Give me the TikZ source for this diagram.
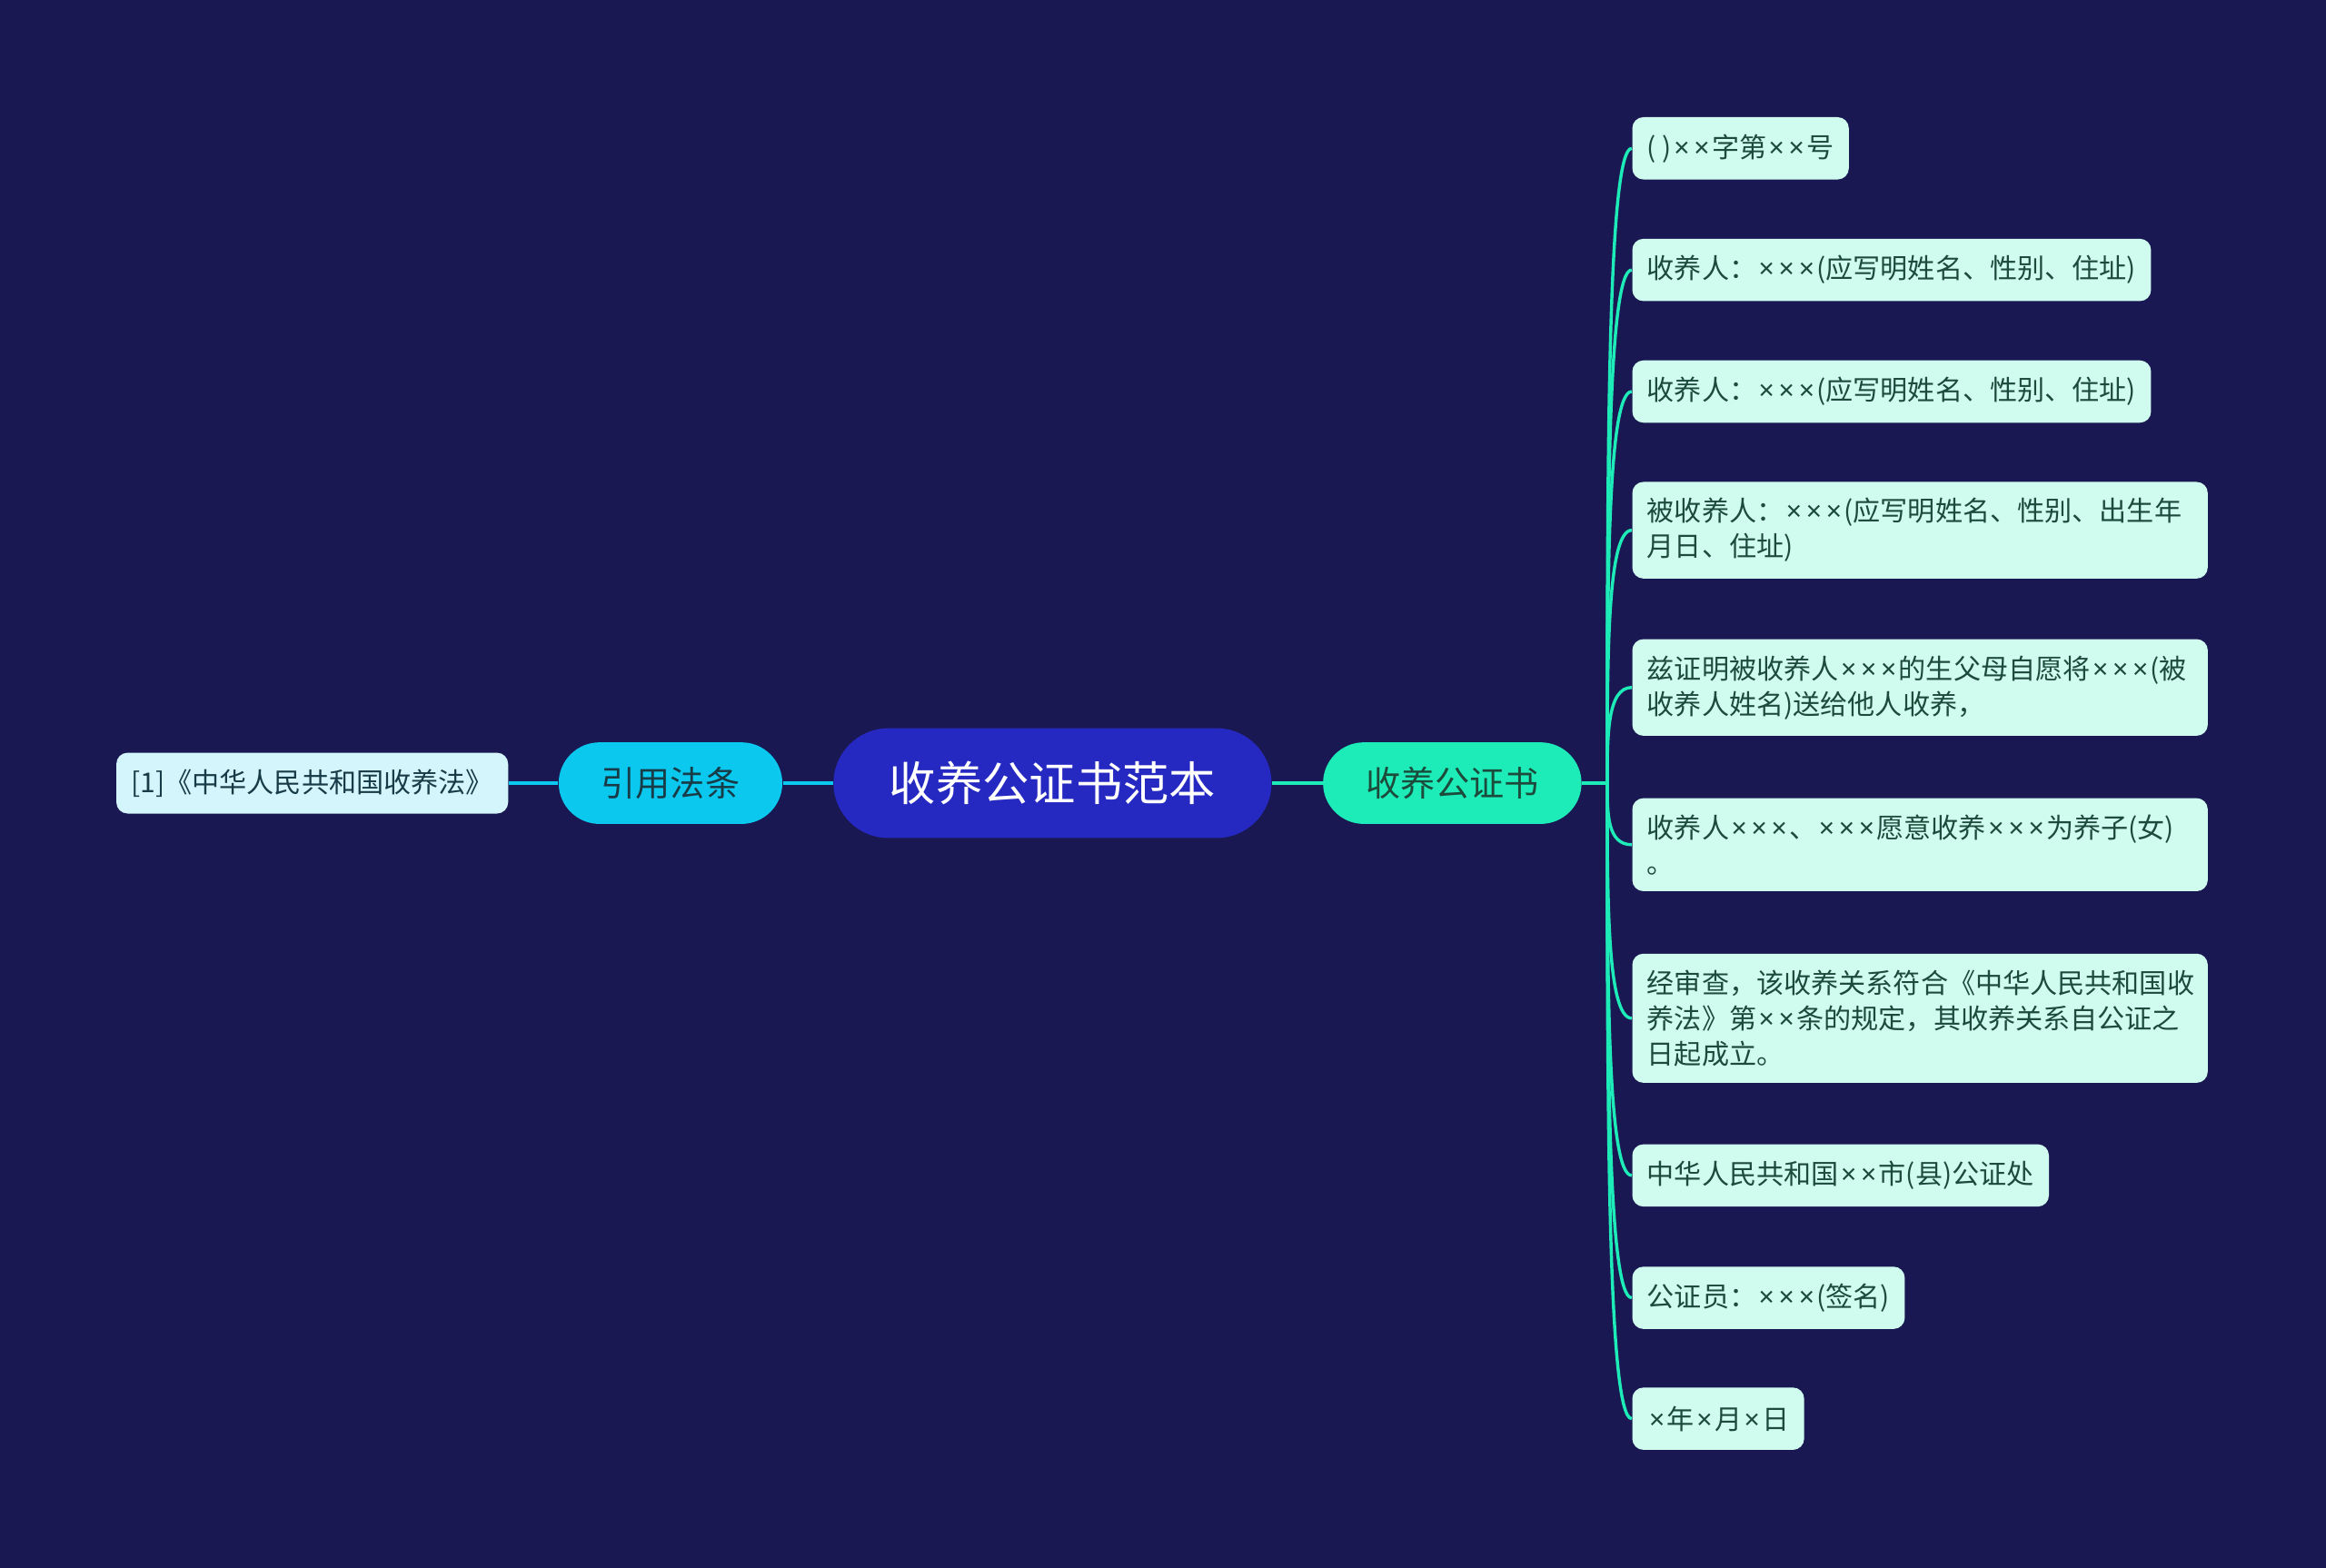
\documentclass[tikz,border=0pt]{standalone}
\usepackage{fontspec}
\setmainfont{Noto Sans CJK SC}
\newfontfamily\latinfont{Noto Sans}
\newcommand\X{{\latinfont\kern0.08em×\kern0.08em}}
\usepackage{xcolor}
\usepackage{tikz}
\usetikzlibrary{shapes.misc,calc}
\definecolor{bgnavy}{HTML}{1A1852}
\definecolor{rootblue}{HTML}{2529C2}
\definecolor{citecyan}{HTML}{0BC8EF}
\definecolor{certmint}{HTML}{1DEBB8}
\definecolor{leafmint}{HTML}{CFFCEF}
\definecolor{leafcyan}{HTML}{D3F5FB}
\definecolor{leaftext}{HTML}{1C4A3B}
\definecolor{citetext}{HTML}{173C47}

\begin{document}
\begin{tikzpicture}[x=0.02cm, y=-0.02cm, every node/.style={font=\fontsize{10.5pt}{13.6pt}\selectfont}, root/.style={rounded rectangle, fill=rootblue, text=white, minimum width=6.14cm, minimum height=1.48cm, font=\fontsize{17.9pt}{21pt}\selectfont}, pill/.style={rounded rectangle, minimum height=1.1cm, font=\fontsize{13.3pt}{16pt}\selectfont}, leaf/.style={fill=leafmint, text=leaftext, rounded corners=0.15cm, align=left, inner xsep=0.2cm, inner ysep=0.22cm, minimum height=0.84cm}, leafw/.style={leaf, text width=7.36cm}, link/.style={line width=1.2pt}]
\fill[bgnavy] (0,0) rectangle (1568,1057);
\node[root] (root) at (709.5,528) {收养公证书范本};
\node[pill, fill=citecyan, text=citetext, minimum width=3.25cm] (yy) at (452,528) {引用法条};
\node[pill, fill=certmint, text=leaftext, minimum width=3.72cm] (gz) at (979,528) {收养公证书};
\node[leaf, fill=leafcyan, text=citetext, minimum height=0.82cm] (fl) at (210.5,528) {[1]《中华人民共和国收养法》};
\draw[link, citecyan] (fl.east) -- (yy.west) (yy.east) -- (root.west);
\draw[link, certmint] (root.east) -- (gz.west);
\coordinate (tr) at ($(gz.east)+(17,0)$);
\draw[link, certmint] (gz.east) -- (tr);
% certificate items
\foreach \i/\y/\sty/\txt in {1/100/leaf/{( )\X\X 字第\X\X 号}, 2/182/leaf/{收养人：\X\X\X(应写明姓名、性别、住址)}, 3/264/leaf/{收养人：\X\X\X(应写明姓名、性别、住址)}, 4/357.5/leafw/{被收养人：\X\X\X(应写明姓名、性别、出生年\\月日、住址)}, 5/463.5/leafw/{兹证明被收养人\X\X\X 的生父母自愿将\X\X\X(被\\收养人姓名)送给他人收养，}, 6/569.5/leafw/{收养人\X\X\X、\X\X\X 愿意收养\X\X\X 为养子(女)\\。}, 7/686.5/leafw/{经审查，该收养关系符合《中华人民共和国收\\养法》第\X\X 条的规定，其收养关系自公证之\\日起成立。}, 8/792.5/leaf/{中华人民共和国\X\X 市(县)公证处}, 9/875/leaf/{公证员：\X\X\X(签名)}, 10/956.5/leaf/{\X 年\X 月\X 日}} {
  \node[\sty, anchor=west] (n\i) at (1100,\y) {\txt};
  \coordinate (k\i) at (tr |- n\i.west);
  \draw[link, certmint] (tr) .. controls ($(tr)!0.5!(k\i)$) and (k\i) .. (n\i.west);
}
\end{tikzpicture}
\end{document}
